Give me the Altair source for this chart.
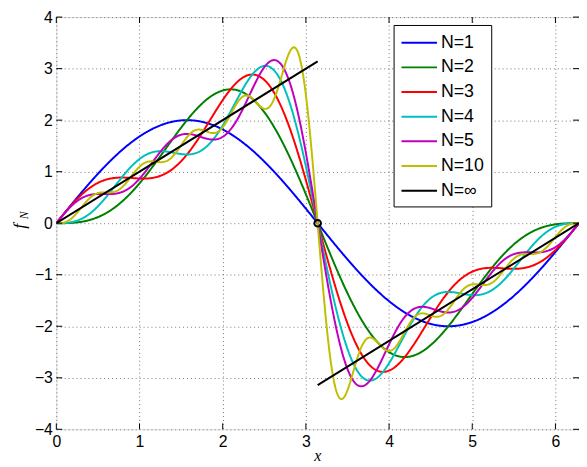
import altair as alt
import numpy as np
import pandas as pd

# Fourier sine coefficients of the sawtooth partial sums (read as values)
coeffs = [2.0, -1.0, 0.6667, -0.5, 0.4, -0.3333, 0.2857, -0.25, 0.2222, -0.2]
partial_terms = [1, 2, 3, 4, 5, 10]
series_labels = ["N=1", "N=2", "N=3", "N=4", "N=5", "N=10", "N=∞"]
series_colors = ["#0000ff", "#008000", "#ff0000", "#00bfbf", "#bf00bf", "#bfbf00", "#000000"]

# limit (N=∞) straight segments
limit_x = [0.0, 3.1416, 3.1416, 6.2832]
limit_y = [0.0, 3.1416, -3.1416, 0.0]
limit_seg = [0, 0, 1, 1]

marker_x = [3.1416]
marker_y = [0.0]

x_ticks = [0, 1, 2, 3, 4, 5, 6]
y_ticks = [-4, -3, -2, -1, 0, 1, 2, 3, 4]
x_max = 6.2832

xs = np.linspace(0, x_max, 900)
rows = []
for n, lab in zip(partial_terms, series_labels[:6]):
    ys = np.zeros_like(xs)
    for k in range(n):
        ys = ys + coeffs[k] * np.sin((k + 1) * xs)
    for xv, yv in zip(xs, ys):
        rows.append({"x": xv, "y": yv, "series": lab, "seg": 0})
for xv, yv, s in zip(limit_x, limit_y, limit_seg):
    rows.append({"x": xv, "y": yv, "series": "N=∞", "seg": s})
df = pd.DataFrame(rows)

xscale = alt.Scale(domain=[0, x_max], nice=False, zero=False)
yscale = alt.Scale(domain=[-4, 4], nice=False)
cscale = alt.Scale(domain=series_labels, range=series_colors)

FONT = "Liberation Sans"

xaxis = alt.Axis(values=x_ticks, grid=True, gridDash=[1, 3], gridColor="#777", gridOpacity=1,
                 ticks=False, domain=False, labelFont=FONT, labelFontSize=16, labelColor="black",
                 labelPadding=4, labelFlush=False, title=None)
yaxis = alt.Axis(values=y_ticks, grid=True, gridDash=[1, 3], gridColor="#777", gridOpacity=1,
                 ticks=False, domain=False, labelFont=FONT, labelFontSize=16, labelColor="black",
                 labelPadding=4, labelFlush=False, title=None, format="d")
legend = alt.Legend(title=None, orient="none", legendX=342, legendY=8,
                    symbolType="M-1,0H2.6", symbolSize=400, symbolStrokeWidth=2,
                    labelFont=FONT, labelFontSize=18, labelColor="black",
                    labelOffset=19, rowPadding=5, padding=7,
                    strokeColor="black", fillColor="white", cornerRadius=0)

X = alt.X("x:Q", scale=xscale, axis=xaxis)
Y = alt.Y("y:Q", scale=yscale, axis=yaxis)

layers = []
for lab in series_labels:
    layers.append(
        alt.Chart(df).transform_filter(alt.datum.series == lab)
        .mark_line(strokeWidth=2, clip=True).encode(
            x=X, y=Y,
            color=alt.Color("series:N", scale=cscale, legend=legend),
            detail="seg:N",
        )
    )

marker = alt.Chart(pd.DataFrame({"x": marker_x, "y": marker_y})).mark_point(
    shape="circle", filled=False, size=45, strokeWidth=2, color="black", opacity=1
).encode(x=X, y=Y)

# inward ticks
xt = pd.DataFrame({"x": x_ticks})
yt = pd.DataFrame({"y": y_ticks})
tick_b = alt.Chart(xt).mark_rule(color="black", strokeWidth=1).encode(
    x=X, y=alt.value(418), y2=alt.value(412))
tick_t = alt.Chart(xt).mark_rule(color="black", strokeWidth=1).encode(
    x=X, y=alt.value(0), y2=alt.value(6))
tick_l = alt.Chart(yt).mark_rule(color="black", strokeWidth=1).encode(
    y=Y, x=alt.value(0), x2=alt.value(6))
tick_r = alt.Chart(yt).mark_rule(color="black", strokeWidth=1).encode(
    y=Y, x=alt.value(530), x2=alt.value(524))

# axis titles: x and f_N
title_df = pd.DataFrame({"t": ["f"]})
xtitle = alt.Chart(title_df).mark_text(
    text="x", font="Liberation Serif", fontStyle="italic", fontSize=16,
    color="black", align="center", baseline="alphabetic"
).encode(x=alt.value(265), y=alt.value(450))
ytitle_f = alt.Chart(title_df).mark_text(
    text="f", font="Liberation Serif", fontStyle="italic", fontSize=18, angle=270,
    color="black", align="center", baseline="middle"
).encode(x=alt.value(-37), y=alt.value(212))
ytitle_n = alt.Chart(title_df).mark_text(
    text="N", font="Liberation Serif", fontStyle="italic", fontSize=12, angle=270,
    color="black", align="center", baseline="middle"
).encode(x=alt.value(-33), y=alt.value(201))

chart = alt.layer(*layers, marker, tick_b, tick_t, tick_l, tick_r, xtitle, ytitle_f, ytitle_n).properties(
    width=530, height=418,
    autosize=alt.AutoSizeParams(type="none"),
    padding={"left": 49, "top": 6, "right": 0, "bottom": 35},
).configure_view(stroke="black", strokeWidth=1).configure(background="white")

chart.save("out.html", embed_options={"renderer": "svg", "actions": False})
